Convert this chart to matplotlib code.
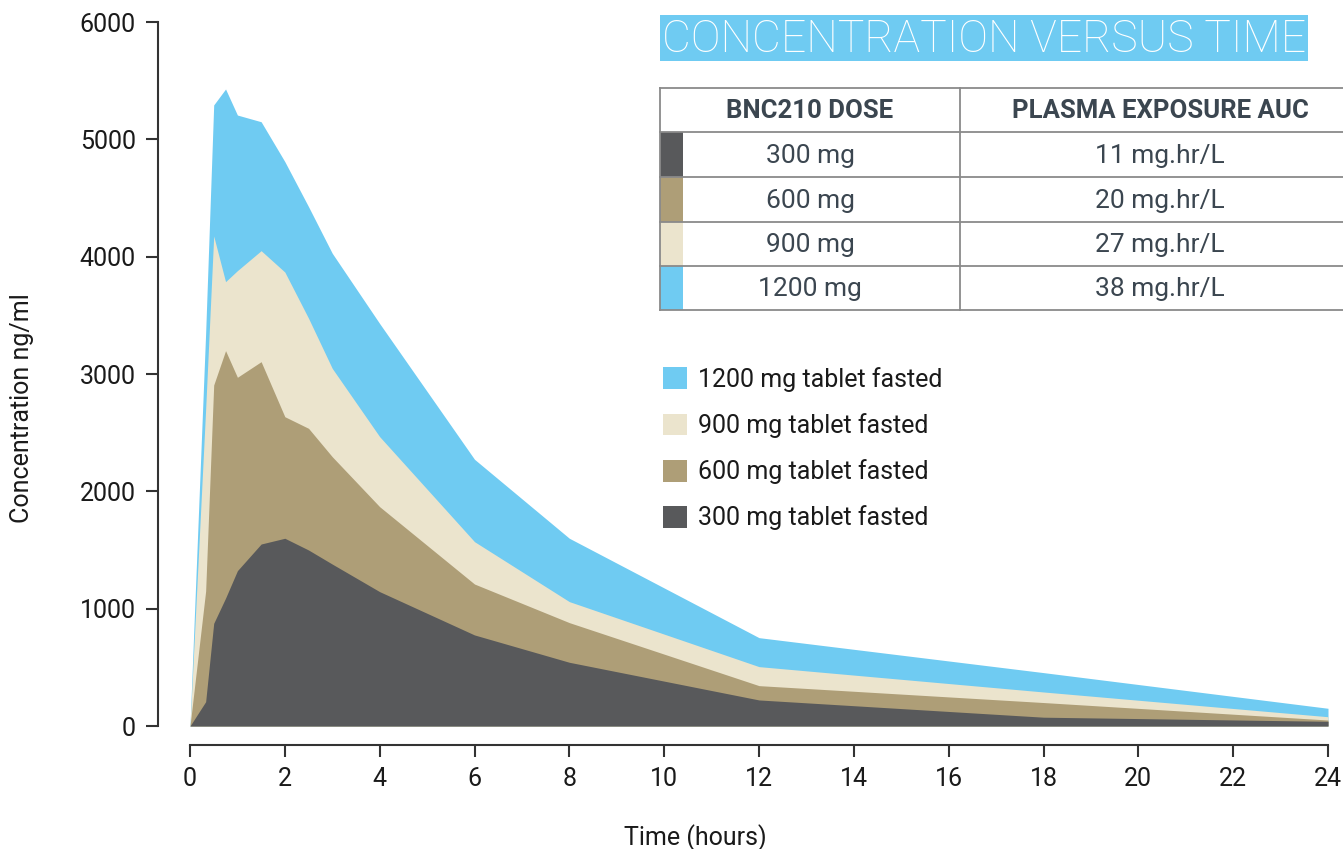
import matplotlib
matplotlib.use("Agg")
import matplotlib.pyplot as plt
from matplotlib.patches import Rectangle

plt.rcParams['font.family'] = ['Roboto', 'DejaVu Sans']

# sampling times (hours)
hours = [0, 0.33, 0.5, 0.75, 1, 1.5, 2, 2.5, 3, 4, 6, 8, 12, 18, 24]

# concentration ng/ml
conc_1200 = [0, 3350, 5293, 5429, 5207, 5150, 4810, 4426, 4029, 3430, 2273, 1600, 753, 455, 151]
conc_900 = [0, 2700, 4176, 3787, 3881, 4051, 3869, 3475, 3048, 2466, 1571, 1060, 506, 290, 79]
conc_600 = [0, 1150, 2906, 3199, 2972, 3105, 2636, 2537, 2295, 1869, 1210, 881, 344, 200, 51]
conc_300 = [0, 207, 875, 1090, 1324, 1551, 1600, 1500, 1380, 1145, 776, 543, 222, 75, 40]

series_labels = ['1200 mg tablet fasted', '900 mg tablet fasted',
                 '600 mg tablet fasted', '300 mg tablet fasted']
series_colors = ['#6fcbf2', '#ebe4cd', '#ae9e77', '#58595b']

# table
table_head = ['BNC210 DOSE', 'PLASMA EXPOSURE AUC']
doses = ['300 mg', '600 mg', '900 mg', '1200 mg']
auc = ['11 mg.hr/L', '20 mg.hr/L', '27 mg.hr/L', '38 mg.hr/L']
dose_colors = ['#58595b', '#ae9e77', '#ebe4cd', '#6fcbf2']

W, H = 1343, 849
PX = 72 / 100  # points per pixel
fig = plt.figure(figsize=(W / 100, H / 100), dpi=100)
ax = fig.add_axes([190 / W, 1 - 726 / H, 1138 / W, 704 / H])

for ys, lab, col in zip([conc_1200, conc_900, conc_600, conc_300], series_labels, series_colors):
    ax.fill_between(hours, 0, ys, color=col, lw=0, label=lab)

ax.set_xlim(0, 24)
ax.set_ylim(0, 6000)
ax.set_xticks(range(0, 25, 2))
ax.set_yticks(range(0, 6001, 1000))
for s in ['top', 'right']:
    ax.spines[s].set_visible(False)
ax.spines['left'].set_position(('outward', 32 * PX))
ax.spines['bottom'].set_position(('outward', 19 * PX))
for s in ['left', 'bottom']:
    ax.spines[s].set_linewidth(1.5)
    ax.spines[s].set_color('#333333')
ax.tick_params(axis='both', width=1.5, length=12 * PX, color='#333333',
               labelsize=18, labelcolor='#1a1a1a')
ax.tick_params(axis='y', pad=10 * PX)
ax.tick_params(axis='x', pad=10 * PX)
ax.set_xlabel('Time (hours)', fontsize=18, color='#1a1a1a')
ax.set_ylabel('Concentration ng/ml', fontsize=18, color='#1a1a1a')
ax.xaxis.set_label_coords(0.444, -0.139)
ax.yaxis.set_label_coords(-0.137, 0.452)

leg = ax.legend(loc='upper left', bbox_to_anchor=(663 / W, 1 - 367 / H),
                bbox_transform=fig.transFigure, frameon=False, fontsize=18,
                handlelength=0.96, handleheight=0.96, handletextpad=0.45,
                labelspacing=0.85, borderpad=0, borderaxespad=0)
for t in leg.get_texts():
    t.set_color('#1a1a1a')

# overlay in pixel coordinates for title and table
ov = fig.add_axes([0, 0, 1, 1], zorder=5)
ov.set_xlim(0, W)
ov.set_ylim(H, 0)
ov.axis('off')
ov.patch.set_alpha(0)

ov.add_patch(Rectangle((660, 15), 648, 46, facecolor='#6fcbf2', lw=0))
ov.text(984, 40, 'CONCENTRATION VERSUS TIME', color='white', fontsize=32,
        fontweight='light', ha='center', va='center')

rows = [88, 132, 177, 222, 266, 310]
grid = '#8a8a8a'
for i in range(len(doses)):
    top = rows[i + 1]
    ov.add_patch(Rectangle((660, top), 23, rows[i + 2] - top,
                           facecolor=dose_colors[i], lw=0))
for y in rows:
    ov.plot([660, W], [y, y], color=grid, lw=1.3)
ov.plot([660, 660], [rows[0], rows[-1]], color=grid, lw=1.3)
ov.plot([960, 960], [rows[0], rows[-1]], color=grid, lw=1.3)

tcol = '#3b4650'
ov.text(810, (rows[0] + rows[1]) / 2 + 1, table_head[0], color=tcol, fontsize=18.5,
        fontweight='bold', ha='center', va='center')
ov.text(1160, (rows[0] + rows[1]) / 2 + 1, table_head[1], color=tcol, fontsize=18.5,
        fontweight='bold', ha='center', va='center')
for i in range(len(doses)):
    yc = (rows[i + 1] + rows[i + 2]) / 2 + 1
    ov.text(810, yc, doses[i], color=tcol, fontsize=19, ha='center', va='center')
    ov.text(1160, yc, auc[i], color=tcol, fontsize=19, ha='center', va='center')

fig.savefig('out.png', dpi=100)
